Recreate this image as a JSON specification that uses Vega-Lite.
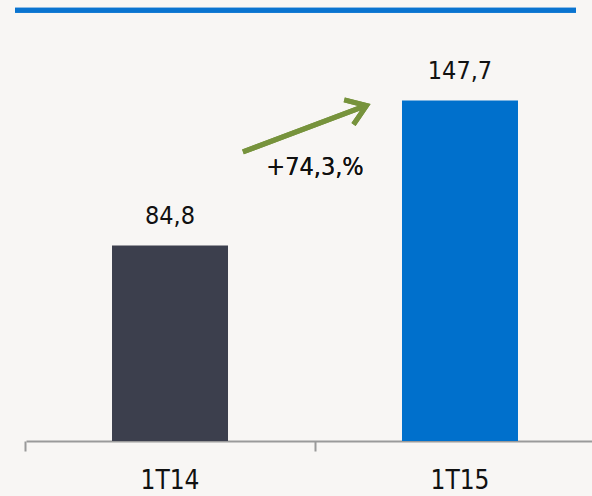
{
  "$schema": "https://vega.github.io/schema/vega-lite/v6.json",
  "width": 566,
  "height": 415,
  "autosize": {"type": "none"},
  "padding": {"left": 26, "top": 26, "right": 0, "bottom": 55},
  "background": "#f8f6f4",
  "config": {
    "view": {"stroke": null},
    "font": "Liberation Sans Narrow, DejaVu Sans Condensed, sans-serif",
    "locale": {"number": {"decimal": ",", "thousands": ".", "grouping": [3], "currency": ["", ""]}}
  },
  "data": {"values": [
    {"periodo": "1T14", "valor": 84.8},
    {"periodo": "1T15", "valor": 147.7}
  ]},
  "encoding": {
    "x": {
      "field": "periodo", "type": "nominal", "sort": null,
      "scale": {"paddingInner": 0.6, "paddingOuter": 0.2759, "align": 0.5375},
      "axis": {
        "title": null, "labelAngle": 0, "bandPosition": -0.75,
        "domainColor": "#9a9a9a", "domainWidth": 2,
        "tickColor": "#9a9a9a", "tickWidth": 2, "tickSize": 10,
        "labelFontSize": 26, "labelColor": "#111111",
        "labelFont": "Liberation Sans Narrow, DejaVu Sans Condensed, sans-serif",
        "labelBaseline": "alphabetic", "labelPadding": 37
      }
    },
    "y": {"field": "valor", "type": "quantitative", "scale": {"domain": [0, 180], "nice": false}, "axis": null}
  },
  "layer": [
    {
      "mark": {"type": "bar"},
      "encoding": {
        "color": {"field": "periodo", "type": "nominal", "scale": {"range": ["#3c3f4d", "#0070cc"]}, "legend": null}
      }
    },
    {
      "mark": {"type": "text", "fontSize": 25, "baseline": "alphabetic", "dy": -21, "color": "#111111"},
      "encoding": {"text": {"field": "valor", "type": "quantitative", "format": ".1f"}}
    },
    {
      "mark": {"type": "rule", "color": "#0a74d0", "strokeWidth": 5, "clip": false},
      "encoding": {
        "x": {"datum": "1T14", "bandPosition": -0.836},
        "x2": {"datum": "1T15", "bandPosition": 1.5},
        "y": {"datum": 186.8}
      }
    },
    {
      "mark": {"type": "rule", "color": "#77933c", "strokeWidth": 5},
      "encoding": {
        "x": {"datum": "1T14", "bandPosition": 1.129},
        "x2": {"datum": "1T15", "bandPosition": -0.328},
        "y": {"datum": 125.4},
        "y2": {"datum": 145.1}
      }
    },
    {
      "mark": {"type": "point", "shape": "M -1 -0.7 L 0 0 L -1 0.7", "filled": false, "stroke": "#77933c", "strokeWidth": 5, "size": 1420, "angle": 339.4, "opacity": 1, "strokeJoin": "miter"},
      "encoding": {
        "x": {"datum": "1T15", "bandPosition": -0.306},
        "y": {"datum": 145.5}
      }
    },
    {
      "mark": {"type": "text", "text": "+74,3,%", "fontSize": 25, "color": "#111111", "baseline": "alphabetic", "align": "center"},
      "encoding": {
        "x": {"datum": "1T14", "bandPosition": 1.75},
        "y": {"datum": 115.4}
      }
    }
  ]
}
